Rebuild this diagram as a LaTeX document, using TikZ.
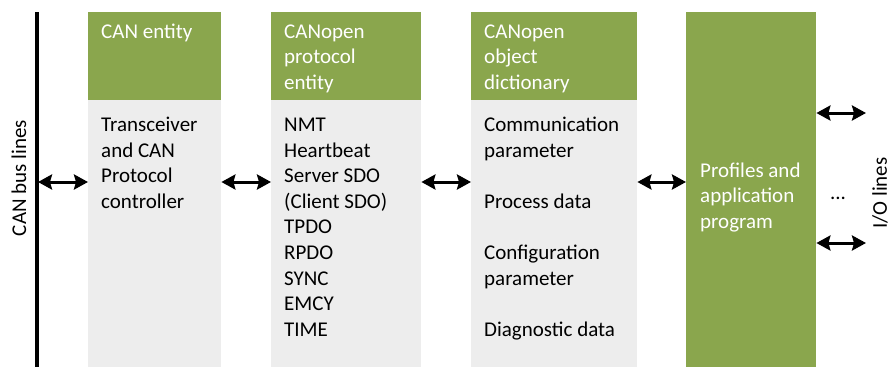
\documentclass[tikz,border=0pt]{standalone}
\usepackage{fontspec}
\setmainfont{Carlito}
\usetikzlibrary{arrows.meta}
\definecolor{cogreen}{HTML}{8AA64D}
\definecolor{cogrey}{HTML}{EDEDED}
\newcommand{\cotab}[1]{\begin{tabular}[t]{@{}l@{}}#1\end{tabular}}
\begin{document}
\begin{tikzpicture}[x=1pt,y=-1pt,
  hdr/.style={fill=cogreen,draw=none,inner sep=0,anchor=north west},
  bdy/.style={fill=cogrey,draw=none,inner sep=0,anchor=north west},
  txt/.style={anchor=base west,inner sep=0,font=\fontsize{21}{25.6}\selectfont},
  dbl/.style={line width=3pt,arrows={Stealth[length=14pt,width=15pt,inset=2pt]-Stealth[length=14pt,width=15pt,inset=2pt]}}]
\useasboundingbox (0,0) rectangle (891,367);
% CAN bus
\coordinate (bustop) at (37,12);
\coordinate (busbot) at (37,367);
\draw[line width=3.5pt] (bustop) -- (busbot);
\node[txt,anchor=center,rotate=90] (buslbl) at (19,178) {CAN bus lines};
% columns
\node[hdr,minimum width=133pt,minimum height=88pt] (canh) at (88,12) {};
\node[bdy,minimum width=133pt,minimum height=267pt] (canb) at (88,100) {};
\node[hdr,minimum width=150pt,minimum height=88pt] (proth) at (271,12) {};
\node[bdy,minimum width=150pt,minimum height=267pt] (protb) at (271,100) {};
\node[hdr,minimum width=166pt,minimum height=88pt] (odh) at (471,12) {};
\node[bdy,minimum width=166pt,minimum height=267pt] (odb) at (471,100) {};
\node[hdr,minimum width=130pt,minimum height=355pt] (app) at (686,12) {};
% texts
\node[txt,white] (canht) at (101,38) {CAN entity};
\node[txt] (canbt) at (101,131.5) {\cotab{Transceiver\\and CAN\\Protocol\\controller}};
\node[txt,white] (protht) at (284,38) {\cotab{CANopen\\protocol\\entity}};
\node[txt] (protbt) at (284,131.5) {\cotab{NMT\\Heartbeat\\Server SDO\\(Client SDO)\\TPDO\\RPDO\\SYNC\\EMCY\\TIME}};
\node[txt,white] (odht) at (484,38) {\cotab{CANopen\\object\\dictionary}};
\node[txt] (odbt) at (484,131.5) {\cotab{Communication\\parameter\\ \\Process data\\ \\Configuration\\parameter\\ \\Diagnostic data}};
\node[txt,white] (appt) at (700,177) {\cotab{Profiles and\\application\\program}};
% arrows
\coordinate (busa) at (38,182);
\draw[dbl] (busa) -- (canb.west |- busa);
\draw[dbl] (canb.east |- busa) -- (protb.west |- busa);
\draw[dbl] (protb.east |- busa) -- (odb.west |- busa);
\draw[dbl] (odb.east |- busa) -- (app.west |- busa);
\coordinate (ioa) at (866,113);
\coordinate (iob) at (866,243);
\draw[dbl] (app.east |- ioa) -- (ioa);
\draw[dbl] (app.east |- iob) -- (iob);
\node[txt,anchor=center] (iodots) at (838,198) {...};
\node[txt,anchor=center,rotate=90] (iolbl) at (880,193) {I/O lines};
\end{tikzpicture}
\end{document}
